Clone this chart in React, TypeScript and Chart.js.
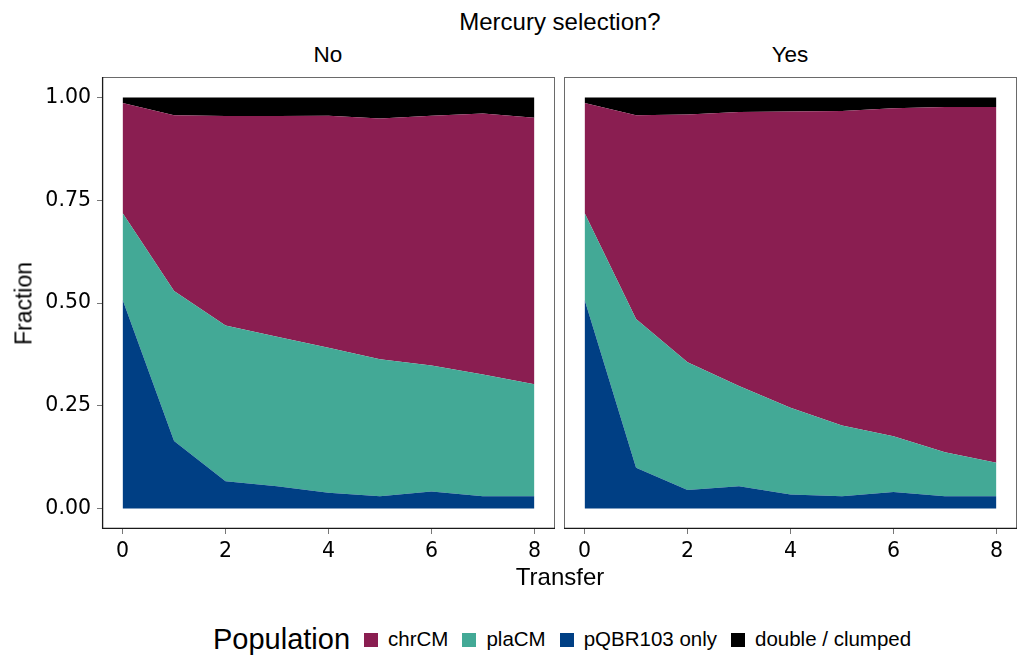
import React, { useEffect, useRef } from "react";
import { Chart, registerables } from "chart.js";
Chart.register(...registerables);

// ---------- data ----------
const transfers = [0, 1, 2, 3, 4, 5, 6, 7, 8];
const xTickValues = [0, 2, 4, 6, 8];
const yTickValues = [0, 0.25, 0.5, 0.75, 1];

const populations = ["chrCM", "plaCM", "pQBR103 only", "double / clumped"];
const popColors = ["#8A1E51", "#43A996", "#003F84", "#000000"];

// Mercury selection: No
const noPQBR = [0.508, 0.164, 0.066, 0.054, 0.038, 0.03, 0.041, 0.03, 0.03];
const noPla = [0.211, 0.365, 0.379, 0.364, 0.353, 0.333, 0.307, 0.296, 0.272];
const noChr = [0.268, 0.428, 0.51, 0.537, 0.565, 0.586, 0.608, 0.635, 0.649];
const noDouble = [0.013, 0.043, 0.045, 0.045, 0.044, 0.051, 0.044, 0.039, 0.049];

// Mercury selection: Yes
const yesPQBR = [0.508, 0.099, 0.045, 0.054, 0.034, 0.03, 0.04, 0.03, 0.03];
const yesPla = [0.211, 0.362, 0.311, 0.244, 0.211, 0.172, 0.136, 0.107, 0.081];
const yesChr = [0.268, 0.496, 0.603, 0.667, 0.721, 0.765, 0.798, 0.84, 0.866];
const yesDouble = [0.013, 0.043, 0.041, 0.035, 0.034, 0.033, 0.026, 0.023, 0.023];

const TEXT_FONT = "'Liberation Sans', Arial, Helvetica, sans-serif";
const TICK_FONT = "'DejaVu Sans', sans-serif";

const panelBorder = {
  id: "panelBorder",
  afterDraw(chart: any, _args: any, opts: any) {
    const { ctx, chartArea } = chart;
    const { left, top, right, bottom } = chartArea;
    ctx.save();
    ctx.strokeStyle = "#6a6a6a";
    ctx.lineWidth = 1;
    ctx.strokeRect(left + 0.5, top + 0.5, right - left - 1, bottom - top - 1);
    ctx.strokeStyle = "#1a1a1a";
    ctx.lineWidth = 1.3;
    ctx.beginPath();
    if (opts && opts.leftAxis) {
      ctx.moveTo(left + 0.6, top);
      ctx.lineTo(left + 0.6, bottom);
    }
    ctx.moveTo(left, bottom - 0.6);
    ctx.lineTo(right, bottom - 0.6);
    ctx.stroke();
    ctx.restore();
  },
};

type PanelProps = {
  pq: number[];
  pla: number[];
  chr: number[];
  dbl: number[];
  showY: boolean;
  left: number;
  width: number;
  padLeft: number;
  padRight: number;
};

const CANVAS_TOP = 70;
const CANVAS_H = 530;

function Panel(props: PanelProps) {
  const ref = useRef<HTMLCanvasElement>(null);
  useEffect(() => {
    if (!ref.current) return;
    const series = [
      { label: populations[2], values: props.pq, color: popColors[2] },
      { label: populations[1], values: props.pla, color: popColors[1] },
      { label: populations[0], values: props.chr, color: popColors[0] },
      { label: populations[3], values: props.dbl, color: popColors[3] },
    ];
    const chart = new Chart(ref.current, {
      type: "line",
      data: {
        datasets: series.map((s, i) => ({
          label: s.label,
          data: transfers.map((t, j) => ({ x: t, y: s.values[j] })),
          backgroundColor: s.color,
          borderColor: "rgba(0,0,0,0)",
          borderWidth: 0,
          pointRadius: 0,
          tension: 0,
          fill: i === 0 ? "origin" : "-1",
        })),
      },
      options: {
        responsive: false,
        animation: false,
        events: [],
        layout: {
          padding: { top: 7, right: props.padRight, left: props.padLeft, bottom: 0 },
        },
        plugins: {
          legend: { display: false },
          tooltip: { enabled: false },
          panelBorder: { leftAxis: props.showY },
        } as any,
        scales: {
          x: {
            type: "linear",
            min: -0.4,
            max: 8.4,
            afterBuildTicks: (scale: any) => {
              scale.ticks = xTickValues.map((v) => ({ value: v }));
            },
            afterFit: (scale: any) => {
              scale.height = 71;
              scale.paddingLeft = 0;
              scale.paddingRight = 0;
            },
            ticks: {
              color: "#000",
              font: { family: TICK_FONT, size: 20.5 },
              padding: 5,
              maxRotation: 0,
              autoSkip: false,
              callback: (v: any) => String(v),
            },
            grid: {
              display: true,
              drawOnChartArea: false,
              drawTicks: true,
              tickLength: 5,
              color: "#777",
            },
            border: { display: false },
          },
          y: {
            display: props.showY,
            stacked: true,
            min: -0.05,
            max: 1.05,
            afterBuildTicks: (scale: any) => {
              scale.ticks = yTickValues.map((v) => ({ value: v }));
            },
            afterFit: (scale: any) => {
              scale.width = props.showY ? 102 : 0;
              scale.paddingTop = 0;
              scale.paddingBottom = 0;
            },
            ticks: {
              color: "#000",
              font: { family: TICK_FONT, size: 20.5 },
              padding: 6,
              autoSkip: false,
              callback: (v: any) => Number(v).toFixed(2),
            },
            grid: {
              display: true,
              drawOnChartArea: false,
              drawTicks: true,
              tickLength: 5,
              color: "#777",
            },
            border: { display: false },
          },
        },
      },
      plugins: [panelBorder],
    });
    return () => chart.destroy();
  }, []);
  return (
    <canvas
      ref={ref}
      width={props.width}
      height={CANVAS_H}
      style={{
        position: "absolute",
        left: props.left,
        top: CANVAS_TOP,
        width: props.width,
        height: CANVAS_H,
        display: "block",
      }}
    />
  );
}

const textBase: React.CSSProperties = {
  position: "absolute",
  fontFamily: TEXT_FONT,
  color: "#000",
  lineHeight: 1,
  whiteSpace: "nowrap",
};

export default function App() {
  return (
    <div
      style={{
        position: "absolute",
        left: 0,
        top: 0,
        width: 1024,
        height: 655,
        background: "#fff",
        overflow: "hidden",
      }}
    >
      <div style={{ ...textBase, fontSize: 24, left: 0, width: 1120, textAlign: "center", top: 10 }}>
        Mercury selection?
      </div>
      <div style={{ ...textBase, fontSize: 22.5, left: 228, width: 200, textAlign: "center", top: 43.5 }}>
        No
      </div>
      <div style={{ ...textBase, fontSize: 22.5, left: 690, width: 200, textAlign: "center", top: 43.5 }}>
        Yes
      </div>

      <Panel pq={noPQBR} pla={noPla} chr={noChr} dbl={noDouble} showY={true} left={0} width={560} padLeft={0} padRight={5} />
      <Panel pq={yesPQBR} pla={yesPla} chr={yesChr} dbl={yesDouble} showY={false} left={560} width={464} padLeft={4} padRight={7} />

      <div
        style={{
          ...textBase,
          fontSize: 23,
          left: 24 - 60,
          top: 303 - 11.5,
          width: 120,
          textAlign: "center",
          transform: "rotate(-90deg)",
        }}
      >
        Fraction
      </div>
      <div style={{ ...textBase, fontSize: 24, left: 460, width: 200, textAlign: "center", top: 564.5 }}>
        Transfer
      </div>

      <div
        style={{
          ...textBase,
          left: 213,
          top: 625,
          display: "flex",
          alignItems: "center",
          height: 29,
        }}
      >
        <span style={{ fontSize: 29, marginRight: 14 }}>Population</span>
        {populations.map((p, i) => (
          <span key={p} style={{ display: "flex", alignItems: "center", marginRight: i < populations.length - 1 ? 14 : 0 }}>
            <span style={{ display: "inline-block", width: 14, height: 14, background: popColors[i], marginRight: 10 }} />
            <span style={{ fontSize: 20.5 }}>{p}</span>
          </span>
        ))}
      </div>
    </div>
  );
}
